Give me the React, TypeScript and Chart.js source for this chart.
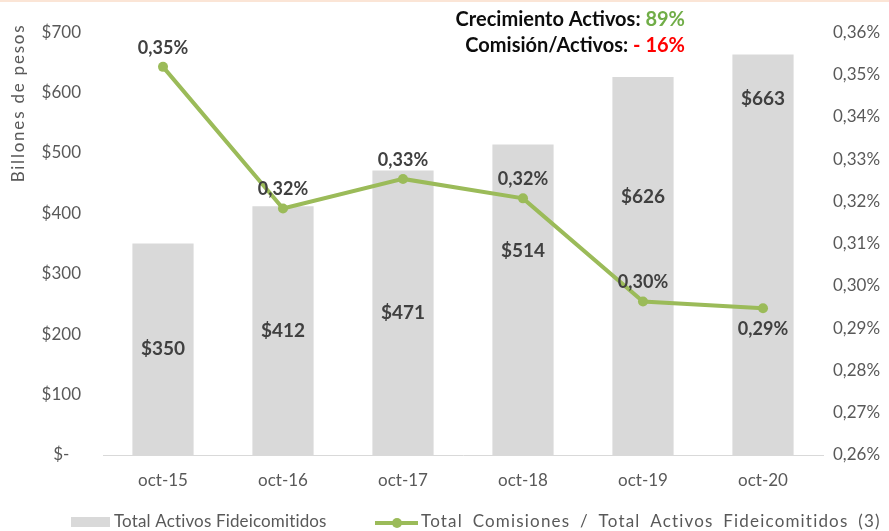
import React, { useEffect, useRef } from "react";
import { Chart, registerables } from "chart.js";

Chart.register(...registerables);

const categories = ["oct-15", "oct-16", "oct-17", "oct-18", "oct-19", "oct-20"];
const activos = [350, 412, 471, 514, 626, 663];
const comisiones = [0.3518, 0.3183, 0.3253, 0.3207, 0.2963, 0.2947];
const comisionLabels = ["0,35%", "0,32%", "0,33%", "0,32%", "0,30%", "0,29%"];
const comisionLabelBelow = [false, false, false, false, false, true];
const barLabelAnchor: (number | null)[] = [null, null, null, 338, 428, 590];
const barLegend = "Total Activos Fideicomitidos";
const lineLegend = "Total Comisiones / Total Activos Fideicomitidos (3)";
const yTitle = "Billones de pesos";
const note1 = ["Crecimiento Activos: ", "89%"];
const note2 = ["Comisión/Activos: ", "- 16%"];

const FONT = "Lato, 'Open Sans', sans-serif";
const GREEN = "#9BBB59";
const BAR = "#D9D9D9";
const TICK = "#595959";
const LABEL = "#404040";

function fitText(
  ctx: CanvasRenderingContext2D,
  text: string,
  x: number,
  y: number,
  target: number,
  wordShare = 0
) {
  const c = ctx as any;
  c.letterSpacing = "0px";
  c.wordSpacing = "0px";
  const w = ctx.measureText(text).width;
  const extra = target - w;
  const spaces = (text.match(/ /g) || []).length;
  const share = spaces > 0 && extra > 0 ? wordShare : 0;
  c.letterSpacing = ((extra * (1 - share)) / Math.max(1, text.length - 1)).toFixed(2) + "px";
  if (share > 0) c.wordSpacing = ((extra * share) / spaces).toFixed(2) + "px";
  ctx.fillText(text, x, y);
  c.letterSpacing = "0px";
  c.wordSpacing = "0px";
}

const overlay = {
  id: "overlay",
  beforeDraw(chart: any) {
    const ctx = chart.ctx as CanvasRenderingContext2D;
    ctx.save();
    ctx.fillStyle = "#FBE5D6";
    ctx.fillRect(0, 0, chart.width, 2);
    ctx.restore();
  },
  afterDatasetsDraw(chart: any) {
    const ctx = chart.ctx as CanvasRenderingContext2D;
    const yS = chart.scales.y;
    const barMeta = chart.getDatasetMeta(1);
    const lineMeta = chart.getDatasetMeta(0);
    ctx.save();
    // bar labels
    ctx.font = `bold 19px ${FONT}`;
    ctx.fillStyle = LABEL;
    ctx.textAlign = "center";
    ctx.textBaseline = "middle";
    barMeta.data.forEach((el: any, i: number) => {
      const anchor = barLabelAnchor[i];
      const y = anchor == null ? (el.y + el.base) / 2 : yS.getPixelForValue(anchor);
      ctx.fillText("$" + activos[i], el.x, y);
    });
    // line labels
    ctx.font = `bold 18px ${FONT}`;
    lineMeta.data.forEach((el: any, i: number) => {
      const y = comisionLabelBelow[i] ? el.y + 21 : el.y - 19;
      ctx.fillText(comisionLabels[i], el.x, y);
    });
    // notes
    ctx.textAlign = "left";
    const right = 685;
    const drawNote = (parts: string[], color: string, y: number) => {
      ctx.font = `bold 20px ${FONT}`;
      const w0 = ctx.measureText(parts[0]).width;
      const w1 = ctx.measureText(parts[1]).width;
      ctx.fillStyle = "#0D0D0D";
      ctx.fillText(parts[0], right - w1 - w0, y);
      ctx.fillStyle = color;
      ctx.fillText(parts[1], right - w1, y);
    };
    drawNote(note1, "#70AD47", 20);
    drawNote(note2, "#FF0000", 46);
    // y title
    ctx.save();
    ctx.translate(19, 103);
    ctx.rotate(-Math.PI / 2);
    ctx.font = `17px ${FONT}`;
    ctx.fillStyle = TICK;
    ctx.textAlign = "center";
    fitText(ctx, yTitle, 0, 0, 157, 0);
    ctx.restore();
    // legend
    ctx.fillStyle = BAR;
    ctx.fillRect(71, 517, 39, 10);
    ctx.font = `17px ${FONT}`;
    ctx.fillStyle = TICK;
    ctx.textAlign = "left";
    ctx.textBaseline = "middle";
    fitText(ctx, barLegend, 114, 522, 213, 0);
    ctx.strokeStyle = GREEN;
    ctx.lineWidth = 4;
    ctx.beginPath();
    ctx.moveTo(375, 523);
    ctx.lineTo(418, 523);
    ctx.stroke();
    ctx.fillStyle = GREEN;
    ctx.beginPath();
    ctx.arc(397, 523, 5, 0, Math.PI * 2);
    ctx.fill();
    ctx.fillStyle = TICK;
    fitText(ctx, lineLegend, 421, 522, 459, 0.3);
    ctx.restore();
  },
};

export default function App() {
  const ref = useRef<HTMLCanvasElement>(null);
  useEffect(() => {
    document.body.style.margin = "0";
    const chart = new Chart(ref.current!, {
      type: "bar",
      data: {
        labels: categories,
        datasets: [
          {
            type: "line",
            label: lineLegend,
            data: comisiones,
            yAxisID: "y1",
            borderColor: GREEN,
            backgroundColor: GREEN,
            borderWidth: 4,
            pointRadius: 5,
            pointHoverRadius: 5,
            pointBackgroundColor: GREEN,
            pointBorderWidth: 0,
            tension: 0,
            order: 0,
          } as any,
          {
            type: "bar",
            label: barLegend,
            data: activos,
            yAxisID: "y",
            backgroundColor: BAR,
            categoryPercentage: 1,
            barPercentage: 0.51,
            order: 1,
          },
        ],
      },
      options: {
        responsive: false,
        animation: false,
        devicePixelRatio: 1,
        layout: { padding: { top: 28, left: 0, right: 0, bottom: 0 } },
        plugins: { legend: { display: false }, tooltip: { enabled: false } },
        scales: {
          x: {
            grid: { display: false, drawTicks: false },
            border: { display: true, color: BAR, width: 1 },
            ticks: { color: TICK, font: { family: FONT, size: 17 }, padding: 15 },
            afterFit: (s: any) => {
              s.height = 76;
            },
          },
          y: {
            position: "left",
            min: 0,
            max: 700,
            grid: { display: false, drawTicks: false },
            border: { display: false },
            ticks: {
              stepSize: 100,
              color: TICK,
              font: { family: FONT, size: 17 },
              crossAlign: "center",
              padding: 22,
              callback: (v: any) => (Number(v) === 0 ? "$-" : "$" + v),
            },
            afterFit: (s: any) => {
              s.width = 103;
            },
          },
          y1: {
            position: "right",
            min: 0.26,
            max: 0.36,
            grid: { display: false, drawTicks: false },
            border: { display: false },
            ticks: {
              stepSize: 0.01,
              color: TICK,
              font: { family: FONT, size: 17 },
              padding: 10,
              callback: (v: any) => Number(v).toFixed(2).replace(".", ",") + "%",
            },
            afterFit: (s: any) => {
              s.width = 66;
            },
          },
        },
      },
      plugins: [overlay],
    });
    return () => chart.destroy();
  }, []);
  return (
    <div style={{ position: "absolute", left: 0, top: 0, width: 889, height: 531, background: "#fff" }}>
      <canvas ref={ref} width={889} height={531} />
    </div>
  );
}
